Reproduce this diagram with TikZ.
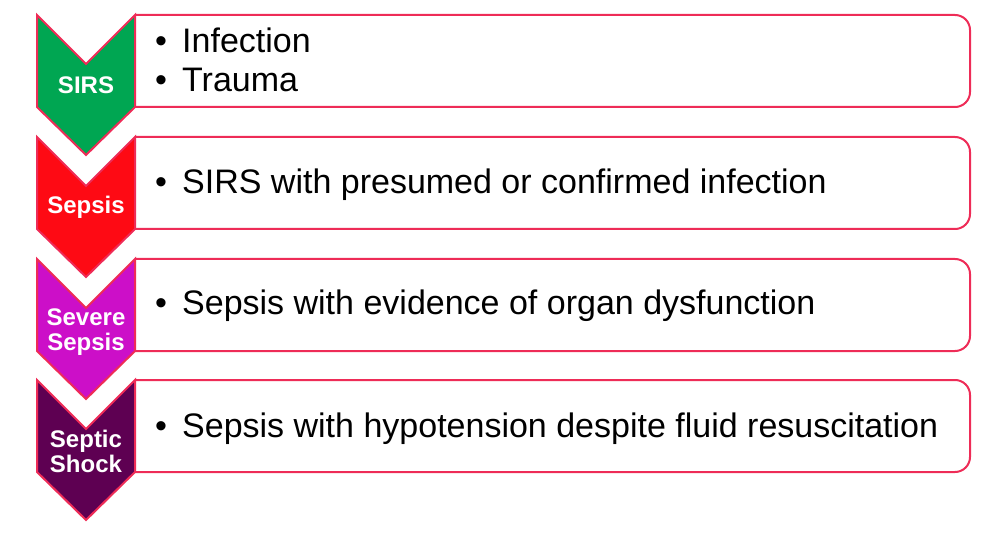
\documentclass[tikz,border=0pt]{standalone}
\usepackage{fontspec}
\setmainfont{Liberation Sans}
\definecolor{edgered}{HTML}{EE2C57}
\definecolor{sirsgreen}{HTML}{00A652}
\definecolor{sepsisred}{HTML}{FE0A14}
\definecolor{severemag}{HTML}{CC0FC8}
\definecolor{shockpurple}{HTML}{5E0052}
\tikzset{
  rowbox/.style={draw=edgered, line width=2pt, fill=white, rounded corners=15pt},
  chevron/.style={draw=edgered, line width=2pt, line join=miter},
  stagelabel/.style={text=white, font=\bfseries\fontsize{24}{25}\selectfont, align=center, inner sep=0pt},
  itemtext/.style={anchor=base west, inner sep=0pt, font=\fontsize{34}{40}\selectfont}
}
\newcommand{\bul}{\makebox[27pt][l]{\textbullet}}
\begin{document}
\begin{tikzpicture}[x=1pt, y=-1pt]
\useasboundingbox (0,0) rectangle (994,548);

% boxes
\draw[rowbox] (135,15) -- (970,15) -- (970,107) -- (135,107);
\draw[rowbox] (135,137) -- (970,137) -- (970,229) -- (135,229);
\draw[rowbox] (135,259) -- (970,259) -- (970,351) -- (135,351);
\draw[rowbox] (135,380) -- (970,380) -- (970,472) -- (135,472);

% chevrons
\draw[chevron, fill=sirsgreen] (37,15) -- (86,64) -- (135,15) -- (135,107) -- (86,155) -- (37,107) -- cycle;
\draw[chevron, fill=sepsisred] (37,137) -- (86,186) -- (135,137) -- (135,229) -- (86,277) -- (37,229) -- cycle;
\draw[chevron, fill=severemag] (37,259) -- (86,308) -- (135,259) -- (135,351) -- (86,399) -- (37,351) -- cycle;
\draw[chevron, fill=shockpurple] (37,380) -- (86,429) -- (135,380) -- (135,472) -- (86,520) -- (37,472) -- cycle;

% stage labels
\node[stagelabel] (sirs) at (86,85) {SIRS};
\node[stagelabel] (sepsis) at (86,207) {Sepsis};
\node[stagelabel] (severe) at (86,332) {Severe\\Sepsis};
\node[stagelabel] (shock) at (86,451) {Septic\\Shock};

% items
\node[itemtext] (infection) at (155,53) {\bul Infection};
\node[itemtext] (trauma) at (155,92) {\bul Trauma};
\node[itemtext] (presumed) at (155,194) {\bul SIRS with presumed or confirmed infection};
\node[itemtext] (organ) at (155,315) {\bul Sepsis with evidence of organ dysfunction};
\node[itemtext] (hypo) at (155,437) {\bul Sepsis with hypotension despite fluid resuscitation};
\end{tikzpicture}
\end{document}
